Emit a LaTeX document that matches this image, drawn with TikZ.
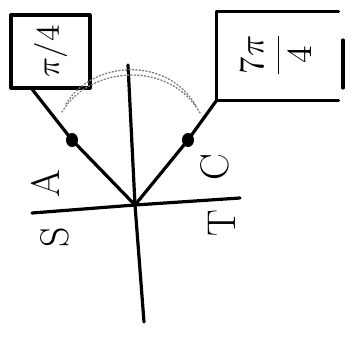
\documentclass[tikz,border=0pt]{standalone}
\usepackage{graphicx}
\usetikzlibrary{shapes.geometric,calc}
\begin{document}
\begin{tikzpicture}[x=1pt,y=-1pt,line width=3.2pt,line cap=round,line join=round,
  lbl/.style={rotate=90,inner sep=0pt,font=\fontsize{40}{40}\selectfont},
  boxtext/.style={rotate=90,inner sep=0pt},
  mark dot/.style={fill=black,ellipse,inner sep=0pt,minimum width=12pt,minimum height=14pt},
  arcdots/.style={gray,line width=1.4pt,dash pattern=on 1.2pt off 2.2pt}]
\useasboundingbox (0,0) rectangle (353,339);
% axes
\coordinate (O) at (135,205);
\coordinate (yt) at (128,65);
\coordinate (yb) at (144,322);
\coordinate (xl) at (32,213);
\coordinate (xr) at (240,198);
\draw (yt) -- (O) -- (yb);
\draw (xl) -- (O) -- (xr);
% left box
\node[draw,minimum width=79pt,minimum height=73pt,inner sep=0pt] (lb) at (50.5,51.5) {};
\node[boxtext] (lt) at (lb) {\scalebox{3.3}{$\pi/4$}};
% right box (open on the right, separate stroke)
\node[minimum width=119pt,minimum height=86pt,inner sep=0pt] (rb) at (277.5,56) {};
\draw (rb.north east) -- (rb.north west) -- (rb.south west) -- (rb.south east);
\coordinate (rbe1) at (343,40);
\coordinate (rbe2) at (343,88);
\draw (rbe1) -- (rbe2);
\node[boxtext] (rt) at (276,55) {\scalebox{3.5}{$\displaystyle\frac{7\pi}{4}$}};
% rays with dots
\coordinate (la) at ($(lb.south west)!0.28!(lb.south east)$);
\node[mark dot] (d1) at (72,140) {};
\node[mark dot] (d2) at (188,140) {};
\draw (O) -- (d1.center) -- (la);
\draw (O) -- (d2.center) -- (rb.south west);
% dotted arc
\coordinate (a1) at (62,112);
\coordinate (a2) at (200,113);
\draw[arcdots] (a1) .. controls (90,65) and (170,60) .. (a2);
\coordinate (b1) at (66,104);
\coordinate (b2) at (196,106);
\draw[arcdots] (b1) .. controls (92,60) and (168,56) .. (b2);
% quadrant labels
\node[lbl] (A) at (45,184) {A};
\node[lbl] (S) at (55,237) {S};
\node[lbl] (C) at (215,167) {C};
\node[lbl] (T) at (222,223) {T};
\end{tikzpicture}
\end{document}
